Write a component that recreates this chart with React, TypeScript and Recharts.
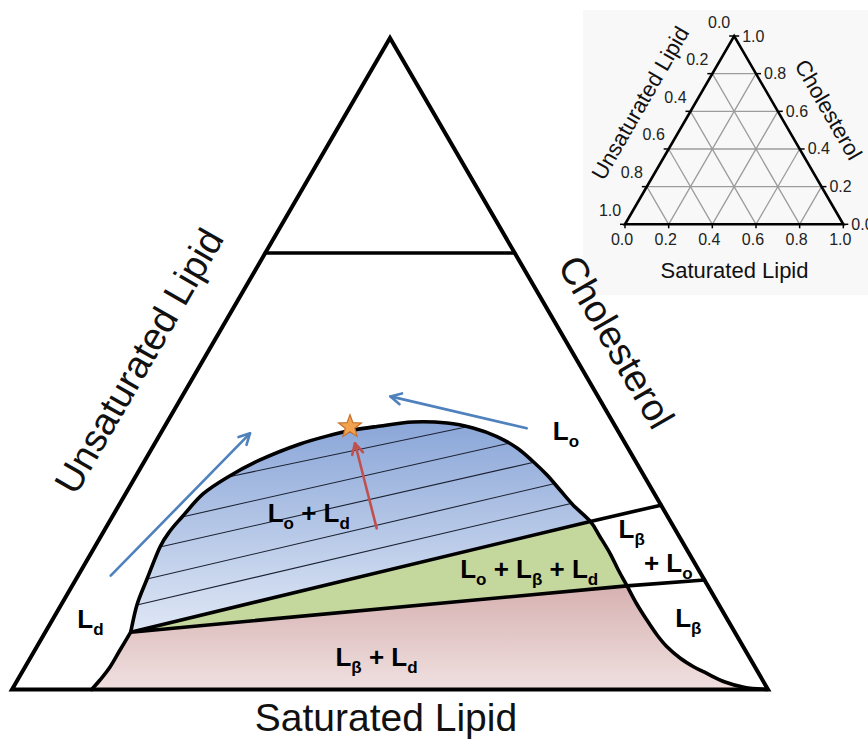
import React from 'react';
import { ScatterChart, Scatter, XAxis, YAxis } from 'recharts';

// Ternary compositions: [saturated lipid fraction, cholesterol fraction]
type TP = [number, number];
type Pt = { x: number; y: number };

// ---------------- data ----------------
const TRIANGLE: TP[] = [[0, 0], [1, 0], [0, 1]];
const CHOL_LIMIT: TP[] = [[0, 0.67], [0.33, 0.67]];
const LD_PT: TP = [0.113, 0.088];
const LO_PT: TP = [0.636, 0.258];
const LB_PT: TP = [0.734, 0.159];
const LO_EDGE: TP = [0.717, 0.283];
const LB_EDGE: TP = [0.832, 0.168];
const SAT_CORNER: TP = [1, 0];

const DOME: TP[] = [
  LD_PT, [0.1004, 0.1297], [0.0938, 0.1696], [0.0864, 0.2187], [0.0874, 0.2433],
  [0.0925, 0.2648], [0.1026, 0.3001], [0.1226, 0.3262], [0.1519, 0.3523], [0.1926, 0.3768],
  [0.2289, 0.3914], [0.2519, 0.3983], [0.281, 0.4037], [0.3251, 0.4106], [0.3709, 0.4091],
  [0.4091, 0.4014], [0.4473, 0.3883], [0.4827, 0.3707], [0.5142, 0.35], [0.5431, 0.3292],
  [0.5718, 0.3062], [0.6005, 0.2832], LO_PT,
];
const LO_LB_CURVE: TP[] = [LO_PT, [0.6605, 0.2345], [0.6865, 0.209], [0.7103, 0.1834], LB_PT];
const LB_CURVE: TP[] = [
  LB_PT, [0.76, 0.132], [0.786, 0.107], [0.811, 0.084], [0.833, 0.066], [0.86, 0.048],
  [0.884, 0.035], [0.906, 0.025], [0.9373, 0.0115], [0.968, 0.0031], SAT_CORNER,
];
const LD_CURVE: TP[] = [LD_PT, [0.1126, 0.0606], [0.1124, 0.035], [0.1091, 0.0146], [0.1052, 0]];

const TIE_LINES: TP[][] = [
  [[0.1226, 0.3262], [0.399, 0.403]],
  [[0.0925, 0.2648], [0.4695, 0.3784]],
  [[0.0864, 0.2187], [0.5172, 0.3492]],
  [[0.0938, 0.1696], [0.5602, 0.3162]],
  [[0.1004, 0.1297], [0.5967, 0.2855]],
];

const BLUE_ARROWS: TP[][] = [
  [[0.0432, 0.1747], [0.1182, 0.3932]],
  [[0.4804, 0.4009], [0.2756, 0.4499]],
];
const RED_ARROW: TP[] = [[0.3587, 0.2474], [0.2647, 0.3779]];
const STAR_PT: TP[] = [[0.2454, 0.4034]];

const PHASE_LABELS: { text: string; at: TP }[] = [
  { text: 'L_o', at: [0.5413, 0.383] },
  { text: 'L_o + L_d', at: [0.2637, 0.2576] },
  { text: 'L_o + L_β + L_d', at: [0.5988, 0.1707] },
  { text: 'L_β', at: [0.7037, 0.2321] },
  { text: '+ L_o', at: [0.7777, 0.1808] },
  { text: 'L_β', at: [0.8464, 0.0964] },
  { text: 'L_β + L_d', at: [0.4641, 0.0361] },
  { text: 'L_d', at: [0.0566, 0.0944] },
];

const AXIS_TITLES = ['Saturated Lipid', 'Cholesterol', 'Unsaturated Lipid'];

const INSET_TICKS = [0, 0.2, 0.4, 0.6, 0.8, 1.0];
const INSET_TICK_LABELS = ['0.0', '0.2', '0.4', '0.6', '0.8', '1.0'];
const INSET_GRID = [0.2, 0.4, 0.6, 0.8];

// ---------------- helpers ----------------
const FONT = "'Liberation Sans', Arial, Helvetica, sans-serif";
const cart = (p: TP) => ({ x: p[0] + p[1] / 2, y: p[1] });

const f = (n: number) => n.toFixed(2);
const linear = (P: Pt[], close = false) =>
  P.map((p, i) => `${i ? 'L' : 'M'}${f(p.x)},${f(p.y)}`).join('') + (close ? 'Z' : '');
const smooth = (P: Pt[]) => {
  if (P.length < 3) return linear(P);
  let d = `M${f(P[0].x)},${f(P[0].y)}`;
  for (let i = 0; i < P.length - 1; i++) {
    const p0 = P[i - 1] || P[i];
    const p1 = P[i];
    const p2 = P[i + 1];
    const p3 = P[i + 2] || p2;
    d += `C${f(p1.x + (p2.x - p0.x) / 6)},${f(p1.y + (p2.y - p0.y) / 6)} ${f(p2.x - (p3.x - p1.x) / 6)},${f(
      p2.y - (p3.y - p1.y) / 6,
    )} ${f(p2.x)},${f(p2.y)}`;
  }
  return d;
};
const pairs = (P: Pt[]) => {
  let d = '';
  for (let i = 0; i + 1 < P.length; i += 2) d += `M${f(P[i].x)},${f(P[i].y)}L${f(P[i + 1].x)},${f(P[i + 1].y)}`;
  return d;
};

const Hidden = () => <g />;

const layer = (key: string, data: TP[], draw: (P: Pt[]) => React.ReactElement) => (
  <Scatter
    key={key}
    name={key}
    data={data.map(cart)}
    shape={Hidden}
    isAnimationActive={false}
    legendType="none"
    line={(props: any) => draw(props.points as Pt[])}
  />
);

const edgeTitle = (
  A: Pt, B: Pt, G: Pt, t: number, off: number, angle: number, text: string, size: number,
) => {
  const px = A.x + (B.x - A.x) * t;
  const py = A.y + (B.y - A.y) * t;
  const dx = B.x - A.x;
  const dy = B.y - A.y;
  const len = Math.hypot(dx, dy);
  let nx = -dy / len;
  let ny = dx / len;
  if ((px - G.x) * nx + (py - G.y) * ny < 0) {
    nx = -nx;
    ny = -ny;
  }
  const x = px + nx * off;
  const y = py + ny * off;
  return (
    <text
      x={x}
      y={y}
      transform={`rotate(${angle} ${f(x)} ${f(y)})`}
      textAnchor="middle"
      fontSize={size}
      fontFamily={FONT}
      fill="#111"
    >
      {text}
    </text>
  );
};

const arrow = (P: Pt[], color: string) => {
  const [a, b] = P;
  const ang = Math.atan2(b.y - a.y, b.x - a.x);
  const L = 12;
  const w = 0.48;
  const h1 = { x: b.x - L * Math.cos(ang - w), y: b.y - L * Math.sin(ang - w) };
  const h2 = { x: b.x - L * Math.cos(ang + w), y: b.y - L * Math.sin(ang + w) };
  return (
    <g stroke={color} strokeWidth={2.6} fill="none" strokeLinecap="round" strokeLinejoin="round">
      <path d={linear([a, b])} />
      <path d={linear([h1, b, h2])} />
    </g>
  );
};

const StarShape = (p: any) => {
  const cx = p.cx;
  const cy = p.cy;
  const pts: Pt[] = [];
  for (let i = 0; i < 10; i++) {
    const r = i % 2 ? 5 : 12;
    const a = -Math.PI / 2 + (i * Math.PI) / 5;
    pts.push({ x: cx + r * Math.cos(a), y: cy + r * Math.sin(a) });
  }
  return <path d={linear(pts, true)} fill="#f0a24e" stroke="#c8702c" strokeWidth={1.2} />;
};

const PhaseText = (p: any) => {
  const text: string = (p.payload && p.payload.label) || p.label;
  const parts: { t: string; sub: boolean }[] = [];
  for (let i = 0; i < text.length; i++) {
    if (text[i] === '_') {
      parts.push({ t: text[i + 1], sub: true });
      i++;
    } else {
      const last = parts[parts.length - 1];
      if (last && !last.sub) last.t += text[i];
      else parts.push({ t: text[i], sub: false });
    }
  }
  let shift = 0;
  return (
    <text
      x={p.cx}
      y={p.cy}
      textAnchor="middle"
      fontFamily={FONT}
      fontWeight="bold"
      fontSize={26}
      fill="#000"
      style={{ whiteSpace: 'pre' }}
    >
      {parts.map((q, i) => {
        const target = q.sub ? 7 : 0;
        const dy = target - shift;
        shift = target;
        return (
          <tspan key={i} dy={dy} fontSize={q.sub ? 17 : 26}>
            {q.t}
          </tspan>
        );
      })}
    </text>
  );
};

// ---------------- main diagram ----------------
const MAIN_W = 868;
const MAIN_H = 740;

const MainDiagram = () => {
  const bluePoly = DOME;
  const greenPoly: TP[] = [LD_PT, ...LO_LB_CURVE];
  const pinkPoly: TP[] = [LD_PT, ...LB_CURVE, ...[...LD_CURVE].reverse()];
  const outerCurve: TP[] = [...DOME, ...LO_LB_CURVE.slice(1), ...LB_CURVE.slice(1)];
  const straight: TP[] = [LD_PT, LO_PT, LD_PT, LB_PT, LO_PT, LO_EDGE, LB_PT, LB_EDGE, ...CHOL_LIMIT];
  const ties: TP[] = TIE_LINES.flat() as TP[];
  const labelData = PHASE_LABELS.map((l) => ({ ...cart(l.at), label: l.text }));

  return (
    <ScatterChart width={MAIN_W} height={MAIN_H} margin={{ top: 0, right: 0, bottom: 0, left: 0 }}>
      <defs>
        <linearGradient id="blueFill" x1="0" y1="0" x2="0" y2="1">
          <stop offset="0%" stopColor="#8aa6d8" />
          <stop offset="100%" stopColor="#dfe7f5" />
        </linearGradient>
        <linearGradient id="pinkFill" x1="0" y1="0" x2="0" y2="1">
          <stop offset="0%" stopColor="#d7b1b1" />
          <stop offset="100%" stopColor="#f0e0e0" />
        </linearGradient>
      </defs>
      <XAxis type="number" dataKey="x" domain={[-0.015873, 1.132275]} hide allowDataOverflow />
      <YAxis type="number" dataKey="y" domain={[-0.077514, 1.058327]} hide allowDataOverflow />

      {layer('pink', pinkPoly, (P) => <path d={linear(P, true)} fill="url(#pinkFill)" stroke="none" />)}
      {layer('blue', bluePoly, (P) => <path d={linear(P, true)} fill="url(#blueFill)" stroke="none" />)}
      {layer('green', greenPoly, (P) => <path d={linear(P, true)} fill="#c4d79d" stroke="none" />)}
      {layer('ties', ties, (P) => <path d={pairs(P)} stroke="#1c2233" strokeWidth={1.1} fill="none" />)}
      {layer('outer', outerCurve, (P) => (
        <path d={smooth(P)} stroke="#000" strokeWidth={3.6} fill="none" strokeLinejoin="round" />
      ))}
      {layer('ldcurve', LD_CURVE, (P) => (
        <path d={smooth(P)} stroke="#000" strokeWidth={3.6} fill="none" strokeLinecap="round" />
      ))}
      {layer('straight', straight, (P) => (
        <path d={pairs(P)} stroke="#000" strokeWidth={3.6} fill="none" strokeLinecap="round" />
      ))}
      {layer('frame', TRIANGLE, (P) => {
        const [BL, BR, TOP] = P;
        const G = { x: (BL.x + BR.x + TOP.x) / 3, y: (BL.y + BR.y + TOP.y) / 3 };
        return (
          <g>
            <path d={linear(P, true)} stroke="#000" strokeWidth={4} fill="none" strokeLinejoin="miter" />
            {edgeTitle(BL, BR, G, 0.4947, 42, 0, AXIS_TITLES[0], 39)}
            {edgeTitle(BR, TOP, G, 0.5, 30, 60, AXIS_TITLES[1], 38)}
            {edgeTitle(BL, TOP, G, 0.462, 42, -60, AXIS_TITLES[2], 38)}
          </g>
        );
      })}
      {BLUE_ARROWS.map((a, i) => layer(`blueArrow${i}`, a, (P) => arrow(P, '#4f81bd')))}
      {layer('redArrow', RED_ARROW, (P) => arrow(P, '#c0504d'))}
      <Scatter name="star" data={STAR_PT.map(cart)} shape={StarShape} isAnimationActive={false} legendType="none" />
      <Scatter name="labels" data={labelData} shape={PhaseText} isAnimationActive={false} legendType="none" />
    </ScatterChart>
  );
};

// ---------------- inset ternary axes ----------------
const INSET_LEFT = 583;
const INSET_TOP = 10;
const INSET_W = 285;
const INSET_H = 285;

const InsetDiagram = () => {
  const grid: TP[] = [];
  INSET_GRID.forEach((v) => {
    grid.push([0, v], [1 - v, v]);
    grid.push([v, 0], [v, 1 - v]);
    grid.push([1 - v, 0], [0, 1 - v]);
  });
  const bottom = INSET_TICKS.map((v, i) => ({ ...cart([v, 0]), label: INSET_TICK_LABELS[i] }));
  const right = INSET_TICKS.map((v, i) => ({ ...cart([1 - v, v]), label: INSET_TICK_LABELS[i] }));
  const left = INSET_TICKS.map((v, i) => ({ ...cart([0, 1 - v]), label: INSET_TICK_LABELS[i] }));
  const tickText = (x: number, y: number, s: string, anchor: 'start' | 'middle') => (
    <text x={x} y={y} textAnchor={anchor} fontSize={16} fontFamily={FONT} fill="#222">
      {s}
    </text>
  );
  return (
    <ScatterChart width={INSET_W} height={INSET_H} margin={{ top: 0, right: 0, bottom: 0, left: 0 }}>
      <XAxis type="number" dataKey="x" domain={[-0.1924, 1.1131]} hide allowDataOverflow />
      <YAxis type="number" dataKey="y" domain={[-0.37546, 1.13808]} hide allowDataOverflow />
      {layer('grid', grid, (P) => <path d={pairs(P)} stroke="#9c9c9c" strokeWidth={1.3} fill="none" />)}
      {layer('iframe', TRIANGLE, (P) => {
        const [BL, BR, TOP] = P;
        const G = { x: (BL.x + BR.x + TOP.x) / 3, y: (BL.y + BR.y + TOP.y) / 3 };
        return (
          <g>
            <path d={linear(P, true)} stroke="#000" strokeWidth={2.6} fill="none" strokeLinejoin="miter" />
            {edgeTitle(BL, BR, G, 0.5016, 54, 0, AXIS_TITLES[0], 22)}
            {edgeTitle(BR, TOP, G, 0.49, 37, 60, AXIS_TITLES[1], 22)}
            {edgeTitle(BL, TOP, G, 0.517, 40, -60, AXIS_TITLES[2], 22)}
          </g>
        );
      })}
      <Scatter
        name="bottomTicks"
        data={bottom}
        isAnimationActive={false}
        legendType="none"
        shape={(p: any) => (
          <g>
            <path d={`M${p.cx},${p.cy}L${p.cx},${p.cy + 4}`} stroke="#000" strokeWidth={1.5} />
            {tickText(p.cx - 3, p.cy + 20.5, p.payload?.label ?? p.label, 'middle')}
          </g>
        )}
      />
      <Scatter
        name="rightTicks"
        data={right}
        isAnimationActive={false}
        legendType="none"
        shape={(p: any) => (
          <g>
            <path d={`M${p.cx},${p.cy}L${p.cx + 5},${p.cy}`} stroke="#000" strokeWidth={1.5} />
            {tickText(p.cx + 8, p.cy + 5.5, p.payload?.label ?? p.label, 'start')}
          </g>
        )}
      />
      <Scatter
        name="leftTicks"
        data={left}
        isAnimationActive={false}
        legendType="none"
        shape={(p: any) => (
          <g>
            <path d={`M${p.cx},${p.cy}L${p.cx - 5},${p.cy}`} stroke="#000" strokeWidth={1.5} />
            {tickText(p.cx - 15, p.cy - 8.5, p.payload?.label ?? p.label, 'middle')}
          </g>
        )}
      />
    </ScatterChart>
  );
};

export default function App() {
  return (
    <div style={{ position: 'absolute', left: 0, top: 0, width: MAIN_W, height: MAIN_H, background: '#fff', overflow: 'hidden' }}>
      <div
        style={{
          position: 'absolute',
          left: INSET_LEFT,
          top: INSET_TOP,
          width: INSET_W,
          height: INSET_H,
          background: '#f8f8f8',
        }}
      >
        <InsetDiagram />
      </div>
      <div style={{ position: 'absolute', left: 0, top: 0 }}>
        <MainDiagram />
      </div>
    </div>
  );
}
